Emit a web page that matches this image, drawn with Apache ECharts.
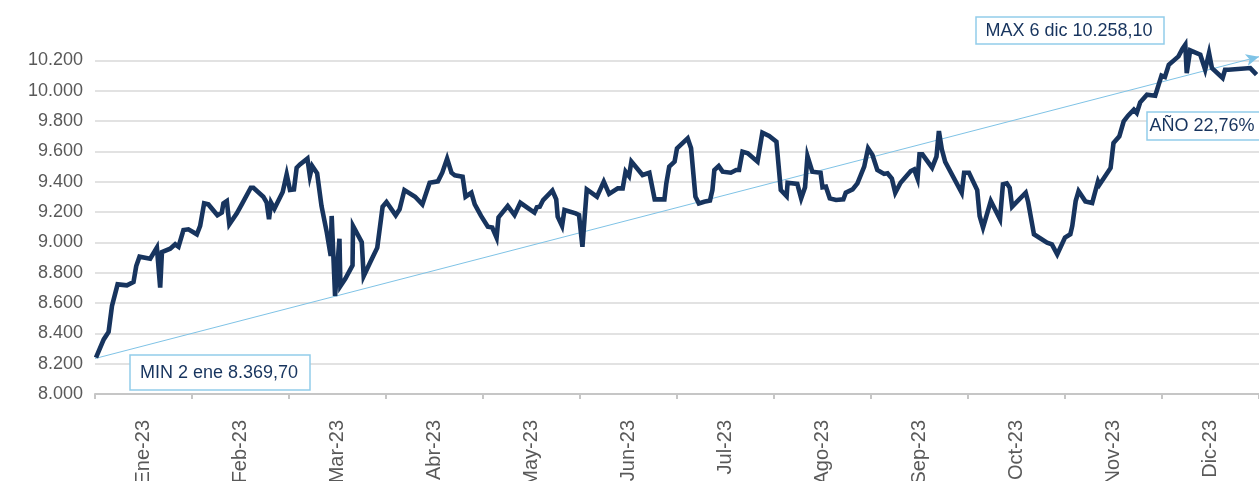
<!DOCTYPE html>
<html>
<head>
<meta charset="utf-8">
<script src="https://cdn.jsdelivr.net/npm/echarts@6/dist/echarts.min.js"></script>
<style>
  html, body { margin: 0; padding: 0; background: #fff; }
  #chart { width: 1259px; height: 481px; }
</style>
</head>
<body>
<div id="chart"></div>
<script>
  // etiquetas del eje x (un mes por categoria)
  var meses = ['Ene-23', 'Feb-23', 'Mar-23', 'Abr-23', 'May-23', 'Jun-23',
               'Jul-23', 'Ago-23', 'Sep-23', 'Oct-23', 'Nov-23', 'Dic-23'];

  // posicion de cada punto en meses desde el 1 de enero (0..12)
  var posicion = [
    0.01, 0.09, 0.14, 0.175, 0.233, 0.329, 0.397, 0.425, 0.459, 0.569,
    0.638, 0.672, 0.69, 0.775, 0.827, 0.861, 0.912, 0.963, 1.05, 1.084,
    1.125, 1.169, 1.262, 1.307, 1.324, 1.359, 1.385, 1.462, 1.513, 1.606,
    1.633, 1.735, 1.77, 1.794, 1.815, 1.849, 1.935, 1.976, 2.01, 2.051,
    2.079, 2.113, 2.19, 2.215, 2.24, 2.29, 2.335, 2.39, 2.43, 2.44,
    2.455, 2.475, 2.52, 2.53, 2.58, 2.655, 2.66, 2.75, 2.77, 2.835,
    2.91, 2.965, 3.005, 3.10, 3.14, 3.19, 3.30, 3.375, 3.45, 3.535,
    3.58, 3.63, 3.675, 3.71, 3.79, 3.82, 3.88, 3.915, 3.98, 4.05,
    4.095, 4.14, 4.16, 4.255, 4.325, 4.385, 4.53, 4.555, 4.585, 4.62,
    4.715, 4.755, 4.77, 4.815, 4.84, 4.955, 4.99, 5.025, 5.07, 5.175,
    5.245, 5.30, 5.39, 5.44, 5.47, 5.505, 5.53, 5.645, 5.715, 5.77,
    5.87, 5.89, 5.92, 5.975, 6.00, 6.11, 6.145, 6.19, 6.225, 6.28,
    6.34, 6.365, 6.385, 6.43, 6.47, 6.555, 6.61, 6.64, 6.675, 6.73,
    6.83, 6.88, 6.95, 7.025, 7.07, 7.13, 7.14, 7.24, 7.28, 7.32,
    7.345, 7.395, 7.48, 7.50, 7.535, 7.575, 7.64, 7.715, 7.74, 7.81,
    7.86, 7.93, 7.97, 8.015, 8.065, 8.135, 8.17, 8.215, 8.25, 8.27,
    8.305, 8.41, 8.445, 8.48, 8.50, 8.53, 8.63, 8.675, 8.70, 8.73,
    8.765, 8.935, 8.96, 9.01, 9.095, 9.12, 9.155, 9.235, 9.33, 9.36,
    9.40, 9.43, 9.455, 9.595, 9.62, 9.68, 9.815, 9.865, 9.92, 10.00,
    10.055, 10.075, 10.11, 10.14, 10.21, 10.28, 10.34, 10.355, 10.47, 10.50,
    10.56, 10.605, 10.65, 10.71, 10.74, 10.775, 10.845, 10.93, 10.995, 11.03,
    11.07, 11.17, 11.21, 11.24, 11.255, 11.29, 11.395, 11.445, 11.485, 11.515,
    11.625, 11.65, 11.685, 11.91, 11.975
  ];

  // valor del indice en cada punto
  var valor = [
    8240, 8360, 8409, 8580, 8723, 8716, 8738, 8844, 8905, 8892,
    8965, 8701, 8936, 8958, 8987, 8971, 9081, 9086, 9053, 9108,
    9257, 9250, 9178, 9196, 9257, 9272, 9119, 9191, 9250, 9360,
    9360, 9301, 9262, 9152, 9262, 9222, 9332, 9448, 9345, 9349,
    9492, 9514, 9552, 9437, 9503, 9455, 9240, 9064, 8910, 9174,
    9174, 8646, 9024, 8712, 8760, 8848, 9108, 9002, 8778, 8866,
    8965, 9235, 9266, 9178, 9218, 9345, 9301, 9250, 9393, 9402,
    9459, 9552, 9459, 9442, 9433, 9301, 9327, 9250, 9174, 9103,
    9097, 9031, 9165, 9240, 9180, 9261, 9196, 9231, 9235, 9279,
    9341, 9283, 9169, 9108, 9213, 9191, 9180, 8971, 9349, 9301,
    9400, 9319, 9356, 9356, 9466, 9437, 9532, 9444, 9459, 9283,
    9283, 9389, 9499, 9532, 9620, 9686, 9620, 9301, 9257, 9268,
    9275, 9345, 9477, 9503, 9466, 9459, 9477, 9477, 9598, 9587,
    9532, 9723, 9701, 9664, 9345, 9305, 9393, 9385, 9290, 9363,
    9569, 9466, 9459, 9363, 9367, 9290, 9279, 9283, 9327, 9349,
    9389, 9499, 9620, 9576, 9477, 9451, 9455, 9420, 9327, 9327,
    9393, 9470, 9481, 9420, 9580, 9580, 9492, 9565, 9734, 9613,
    9530, 9327, 9459, 9459, 9345, 9174, 9097, 9272, 9152, 9382,
    9389, 9360, 9235, 9327, 9266, 9053, 8998, 8987, 8921, 9031,
    9053, 9108, 9272, 9338, 9270, 9259, 9402, 9380, 9490, 9655,
    9699, 9798, 9835, 9875, 9853, 9923, 9974, 9967, 10099, 10090,
    10171, 10226, 10275, 10303, 10116, 10266, 10237, 10138, 10248, 10149,
    10084, 10138, 10138, 10149, 10106
  ];

  // linea de tendencia del año (inicio y fin)
  var tendenciaPos = [0, 12];
  var tendenciaValor = [8234, 10224];

  // ticks del eje y
  var yMin = 8000, yMax = 10400, yPaso = 200;

  var fuente = "'Liberation Sans', Arial, sans-serif";
  var azulOscuro = '#17345e';
  var azulClaro = '#7fc3e6';
  var marco = '#92cdea';

  function miles(v) {
    return String(v).replace(/\B(?=(\d{3})+(?!\d))/g, '.');
  }

  var serie = posicion.map(function (p, i) { return [p, valor[i]]; });

  var chart = echarts.init(document.getElementById('chart'), null, { renderer: 'canvas' });

  var option = {
    backgroundColor: '#fff',
    animation: false,
    grid: { left: 95, right: 0, top: 30, bottom: 87, outerBoundsMode: 'none', containLabel: false },
    xAxis: [
      { type: 'value', min: 0, max: 12, show: false },
      {
        type: 'category',
        data: meses,
        position: 'bottom',
        boundaryGap: true,
        axisLine: { show: true, lineStyle: { color: '#c6c6c6', width: 2 } },
        axisTick: { show: true, interval: 0, length: 5, lineStyle: { color: '#c6c6c6', width: 2 } },
        axisLabel: {
          interval: 0, rotate: 90, margin: 26,
          color: '#595959', fontSize: 20, fontFamily: fuente
        },
        splitLine: { show: false }
      }
    ],
    yAxis: {
      type: 'value',
      min: yMin, max: yMax, interval: yPaso,
      axisLine: { show: false },
      axisTick: { show: false },
      axisLabel: {
        color: '#595959', fontSize: 18, fontFamily: fuente, margin: 12,
        showMaxLabel: false,
        formatter: miles
      },
      splitLine: { show: true, showMaxLine: false, lineStyle: { color: '#d9d9d9', width: 1.5 } }
    },
    series: [{
      type: 'line',
      xAxisIndex: 0,
      data: serie,
      showSymbol: false,
      symbol: 'none',
      clip: false,
      lineStyle: { color: azulOscuro, width: 4.6, join: 'miter', miterLimit: 6 },
      markLine: {
        silent: true,
        symbol: ['none', 'arrow'],
        symbolSize: [9, 13],
        label: { show: false },
        lineStyle: { color: azulClaro, width: 1, type: 'solid' },
        data: [[
          { coord: [tendenciaPos[0], tendenciaValor[0]] },
          { coord: [tendenciaPos[1], tendenciaValor[1]] }
        ]],
        z: 1
      },
      z: 3
    }],
    graphic: [
      { type: 'rect', shape: { x: 130, y: 355, width: 180, height: 35 },
        style: { fill: '#fff', stroke: marco, lineWidth: 1.5 }, z: 10 },
      { type: 'text', x: 219, y: 373,
        style: { text: 'MIN 2 ene 8.369,70', fill: azulOscuro, font: '18px ' + fuente,
                 align: 'center', verticalAlign: 'middle' }, z: 11 },
      { type: 'rect', shape: { x: 976, y: 17, width: 188, height: 27 },
        style: { fill: '#fff', stroke: marco, lineWidth: 1.5 }, z: 10 },
      { type: 'text', x: 1069, y: 31,
        style: { text: 'MAX 6 dic 10.258,10', fill: azulOscuro, font: '18px ' + fuente,
                 align: 'center', verticalAlign: 'middle' }, z: 11 },
      { type: 'rect', shape: { x: 1147, y: 112, width: 116, height: 28 },
        style: { fill: '#fff', stroke: marco, lineWidth: 1.5 }, z: 10 },
      { type: 'text', x: 1202, y: 126,
        style: { text: 'AÑO 22,76%', fill: azulOscuro, font: '18px ' + fuente,
                 align: 'center', verticalAlign: 'middle' }, z: 11 }
    ]
  };

  chart.setOption(option);
</script>
</body>
</html>
